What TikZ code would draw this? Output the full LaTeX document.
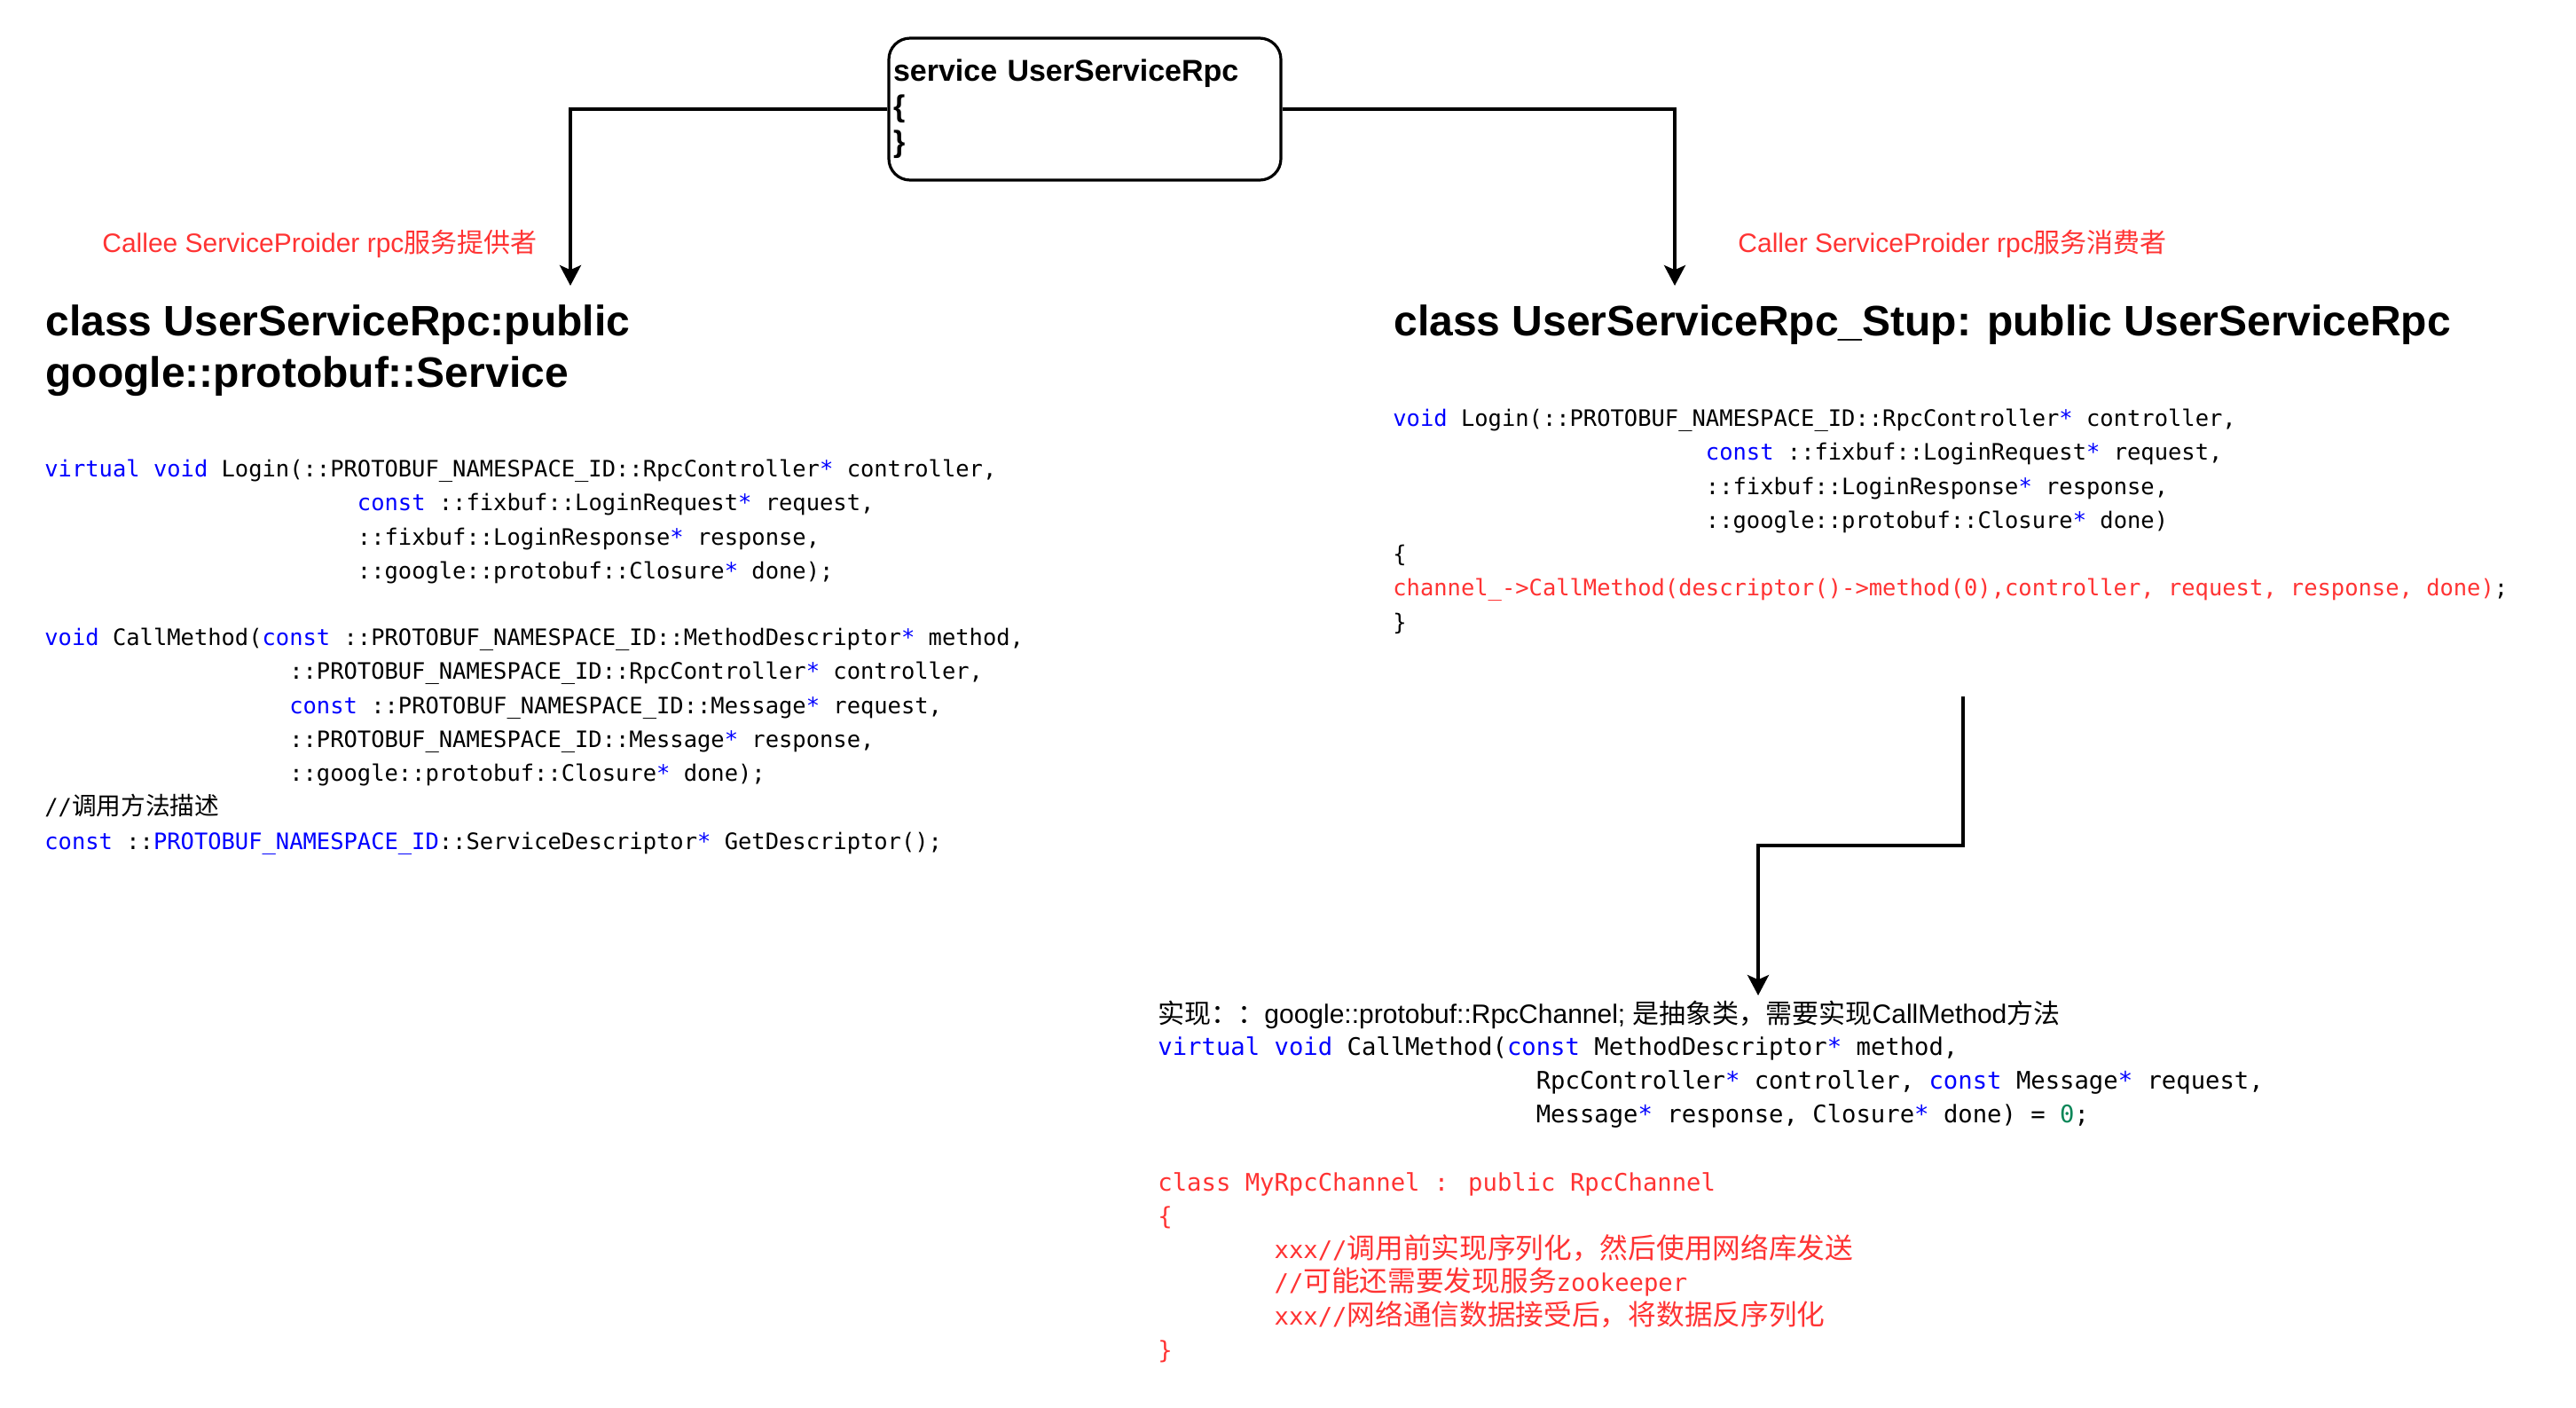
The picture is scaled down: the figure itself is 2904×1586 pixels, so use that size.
\documentclass[tikz,border=0pt]{standalone}
\usepackage{fontspec}
\setmainfont{Liberation Sans}
\newfontfamily\cjk{Noto Sans CJK SC}
\newfontfamily\code{DejaVu Sans Mono}
\usetikzlibrary{arrows.meta}
\definecolor{kwblue}{HTML}{0000FF}
\definecolor{redtxt}{HTML}{FF3333}
\definecolor{numgreen}{HTML}{098658}
\newcommand\kwd[1]{\textcolor{kwblue}{#1}}
\newcommand\st{\textcolor{kwblue}{*}}
\newcommand\ind[1]{\hspace*{\dimexpr0.60205em*#1\relax}}
\newcommand\cjkA[1]{{\cjk\fontsize{13.85pt}{19.15pt}\selectfont #1}}
\newcommand\cjkB[1]{{\cjk\fontsize{15.85pt}{18.9pt}\selectfont #1}}
\newcommand\topH[1]{\rule{0pt}{#1}}
\tikzset{
  conn/.style={line width=1.9pt, -{Stealth[length=11.5pt,width=12pt,inset=2.6pt]}},
  servicebox/.style={draw, line width=1.6pt, rounded corners=12pt, inner xsep=2.5pt, inner ysep=0pt,
    text width=216pt, minimum height=80pt, align=left,
    font=\bfseries\fontsize{17pt}{20pt}\selectfont},
  head/.style={inner sep=0pt, align=left,
    font=\bfseries\fontsize{24pt}{28.8pt}\selectfont},
  redlabel/.style={inner sep=0pt, anchor=base west, text=redtxt,
    font=\fontsize{15pt}{18pt}\selectfont},
  plainlabel/.style={inner sep=0pt, anchor=base west,
    font=\fontsize{15pt}{18pt}\selectfont},
  codeA/.style={inner sep=0pt, anchor=north west, align=left,
    font=\code\fontsize{12.73pt}{19.15pt}\selectfont},
  codeB/.style={inner sep=0pt, anchor=north west, align=left,
    font=\code\fontsize{13.62pt}{18.9pt}\selectfont},
}
\begin{document}
\begin{tikzpicture}[x=0.5pt,y=-0.5pt]
\path[fill=white,use as bounding box] (0,0) rectangle (2904,1586);

% service box
\node[servicebox] (box) at (1223,123) {service UserServiceRpc\\\{\\\}};

% arrow targets
\coordinate (ltip) at (643,322);
\coordinate (rtip) at (1888,322);
\coordinate (dstart) at (2213,785);
\coordinate (dtip) at (1982,1122);

\draw[conn] (box.west) -| (ltip);
\draw[conn] (box.east) -| (rtip);
\draw[conn] (dstart) -- ++(0,168) -| (dtip);

% labels
\node[redlabel] (callee) at (115,284) {Callee ServiceProider rpc{\cjk 服务提供者}};
\node[redlabel] (caller) at (1959,284) {Caller ServiceProider rpc{\cjk 服务消费者}};

% headings (first baseline at y=378)
\node[head, anchor=north west] (lhead) at (51,330) {\topH{24pt}class UserServiceRpc:public\\google::protobuf::Service};
\node[head, anchor=base west] (rhead) at (1571,378) {class UserServiceRpc\_Stup: public UserServiceRpc};

% left code (first baselines 537 and 727)
\node[codeA] (lcode1) at (50,509) {\topH{14pt}\kwd{virtual} \kwd{void} Login(::PROTOBUF\_NAMESPACE\_ID::RpcController\st{} controller,\\
\ind{23}\kwd{const} ::fixbuf::LoginRequest\st{} request,\\
\ind{23}::fixbuf::LoginResponse\st{} response,\\
\ind{23}::google::protobuf::Closure\st{} done);};

\node[codeA] (lcode2) at (50,699) {\topH{14pt}\kwd{void} CallMethod(\kwd{const} ::PROTOBUF\_NAMESPACE\_ID::MethodDescriptor\st{} method,\\
\ind{18}::PROTOBUF\_NAMESPACE\_ID::RpcController\st{} controller,\\
\ind{18}\kwd{const} ::PROTOBUF\_NAMESPACE\_ID::Message\st{} request,\\
\ind{18}::PROTOBUF\_NAMESPACE\_ID::Message\st{} response,\\
\ind{18}::google::protobuf::Closure\st{} done);\\
//\cjkA{调用方法描述}\\
\kwd{const} ::\kwd{PROTOBUF\_NAMESPACE\_ID}::ServiceDescriptor\st{} GetDescriptor();};

% right code (first baseline 480)
\node[codeA] (rcode) at (1570,452) {\topH{14pt}\kwd{void} Login(::PROTOBUF\_NAMESPACE\_ID::RpcController\st{} controller,\\
\ind{23}\kwd{const} ::fixbuf::LoginRequest\st{} request,\\
\ind{23}::fixbuf::LoginResponse\st{} response,\\
\ind{23}::google::protobuf::Closure\st{} done)\\
\{\\
\textcolor{redtxt}{channel\_->CallMethod(descriptor()->method(0),controller, request, response, done)};\\
\}};

% lower block
\node[plainlabel] (impl) at (1305,1153) {{\cjk 实现：：}google::protobuf::RpcChannel; {\cjk 是抽象类，需要实现}CallMethod{\cjk 方法}};

\node[codeB] (dcode1) at (1305,1161) {\topH{14pt}\kwd{virtual} \kwd{void} CallMethod(\kwd{const} MethodDescriptor\st{} method,\\
\ind{26}RpcController\st{} controller, \kwd{const} Message\st{} request,\\
\ind{26}Message\st{} response, Closure\st{} done) = \textcolor{numgreen}{0};};

\node[codeB, text=redtxt] (dcode2) at (1305,1312) {\topH{15pt}class MyRpcChannel : public RpcChannel\\
\{\\
\ind{8}xxx//\cjkB{调用前实现序列化，然后使用网络库发送}\\
\ind{8}//\cjkB{可能还需要发现服务}zookeeper\\
\ind{8}xxx//\cjkB{网络通信数据接受后，将数据反序列化}\\
\}};
\end{tikzpicture}
\end{document}
